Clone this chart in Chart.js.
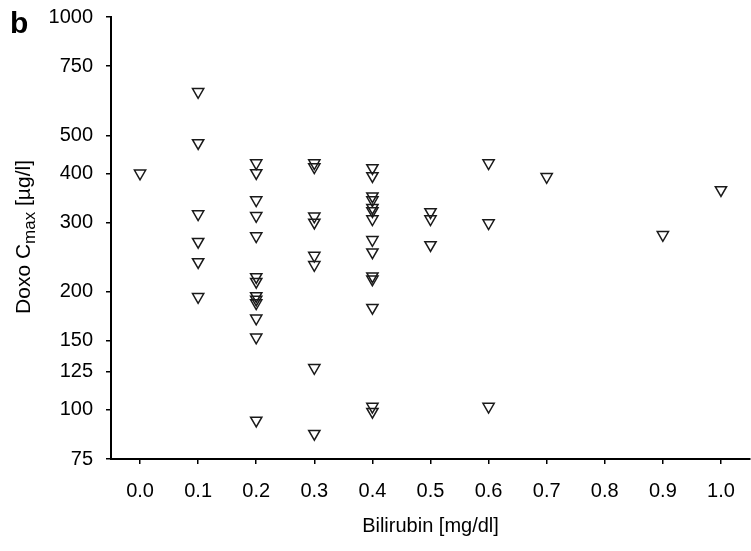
<!DOCTYPE html>
<html lang="en">
<head>
<meta charset="UTF-8">
<title>Doxo Cmax vs Bilirubin</title>
<script src="https://cdn.jsdelivr.net/npm/chart.js"></script>
<style>
    body {
        margin: 0;
        background: #fff;
    }

    .chart-container {
        width: 751px;
        height: 551px;
    }
</style>
</head>
<body>

<div class="chart-container">
    <canvas id="cmaxChart"></canvas>
</div>

<script>
    // one entry per patient: bilirubin [mg/dl] and doxorubicin Cmax [µg/l]
    const bilirubin = [
        0.0,
        0.1, 0.1, 0.1, 0.1, 0.1, 0.1,
        0.2, 0.2, 0.2, 0.2, 0.2, 0.2, 0.2, 0.2, 0.2, 0.2, 0.2, 0.2, 0.2,
        0.3, 0.3, 0.3, 0.3, 0.3, 0.3, 0.3, 0.3,
        0.4, 0.4, 0.4, 0.4, 0.4, 0.4, 0.4, 0.4, 0.4, 0.4, 0.4, 0.4, 0.4, 0.4,
        0.5, 0.5, 0.5,
        0.6, 0.6, 0.6,
        0.7,
        0.9,
        1.0
    ];
    const doxoCmax = [
        400,
        645, 478, 315, 268, 238, 194,
        425, 401, 342, 312, 277, 218, 212, 195, 191, 187, 171, 153, 94,
        425, 415, 311, 300, 247, 234, 128, 87,
        413, 394, 350, 342, 327, 321, 306, 271, 252, 219, 215, 182, 102, 99,
        319, 306, 263,
        425, 299, 102,
        392,
        279,
        363
    ];

    const xTicks = [0.0, 0.1, 0.2, 0.3, 0.4, 0.5, 0.6, 0.7, 0.8, 0.9, 1.0];
    const yTicks = [75, 100, 125, 150, 200, 300, 400, 500, 750, 1000];

    const FONT = '"Liberation Sans", Arial, sans-serif';

    // axis titles (with the Cmax subscript) and the panel letter
    const axisTitles = {
        id: 'axisTitles',
        afterDraw(chart) {
            const { ctx, chartArea } = chart;
            ctx.save();
            ctx.fillStyle = '#000';

            ctx.font = 'bold 30px ' + FONT;
            ctx.textAlign = 'left';
            ctx.textBaseline = 'alphabetic';
            ctx.fillText('b', 10, 33);

            ctx.font = '20px ' + FONT;
            ctx.textAlign = 'center';
            ctx.textBaseline = 'middle';
            ctx.fillText('Bilirubin [mg/dl]', (chartArea.left + chartArea.right) / 2, 526);

            const parts = [
                { text: 'Doxo C', size: 21, shift: 7 },
                { text: 'max', size: 17, shift: 12 },
                { text: ' [µg/l]', size: 21, shift: 7 }
            ];
            let total = 0;
            parts.forEach(p => {
                ctx.font = p.size + 'px ' + FONT;
                p.w = ctx.measureText(p.text).width;
                total += p.w;
            });
            ctx.translate(23, 237);
            ctx.rotate(-Math.PI / 2);
            ctx.textAlign = 'left';
            ctx.textBaseline = 'alphabetic';
            let pos = -total / 2;
            parts.forEach(p => {
                ctx.font = p.size + 'px ' + FONT;
                ctx.fillText(p.text, pos, p.shift);
                pos += p.w;
            });
            ctx.restore();
        }
    };

    const points = bilirubin.map((b, i) => ({ x: b, y: doxoCmax[i] }));

    let ctx = document.getElementById('cmaxChart').getContext('2d');
    let cmaxChart = new Chart(ctx, {
        type: 'scatter',
        data: {
            datasets: [{
                data: points,
                pointStyle: 'triangle',
                rotation: 180,
                radius: 6.5,
                borderColor: '#1a1a1a',
                borderWidth: 1.5,
                backgroundColor: 'rgba(255,255,255,0)'
            }]
        },
        options: {
            responsive: true,
            maintainAspectRatio: false,
            animation: false,
            layout: {
                autoPadding: false,
                padding: { top: 17, right: 1, left: 0, bottom: 0 }
            },
            plugins: {
                legend: { display: false },
                tooltip: { enabled: false }
            },
            scales: {
                x: {
                    type: 'linear',
                    min: -0.05,
                    max: 1.05,
                    afterBuildTicks: s => { s.ticks = xTicks.map(v => ({ value: v })); },
                    afterFit: s => {
                        s.height = 92;
                        s.paddingLeft = 0;
                        s.paddingRight = 0;
                    },
                    ticks: {
                        callback: v => v.toFixed(1),
                        color: '#000',
                        font: { family: FONT, size: 20 },
                        padding: 15,
                        autoSkip: false,
                        maxRotation: 0
                    },
                    grid: {
                        drawOnChartArea: false,
                        tickLength: 5,
                        color: '#000',
                        lineWidth: 1.5
                    },
                    border: { display: true, color: '#000', width: 2 }
                },
                y: {
                    type: 'logarithmic',
                    min: 75,
                    max: 1000,
                    afterBuildTicks: s => { s.ticks = yTicks.map(v => ({ value: v })); },
                    afterFit: s => {
                        s.width = 111;
                        s.paddingTop = 0;
                        s.paddingBottom = 0;
                    },
                    ticks: {
                        callback: v => String(v),
                        color: '#000',
                        font: { family: FONT, size: 20 },
                        padding: 13,
                        autoSkip: false
                    },
                    grid: {
                        drawOnChartArea: false,
                        tickLength: 5,
                        color: '#000',
                        lineWidth: 1.5
                    },
                    border: { display: true, color: '#000', width: 2 }
                }
            }
        },
        plugins: [axisTitles]
    });
</script>
</body>
</html>
